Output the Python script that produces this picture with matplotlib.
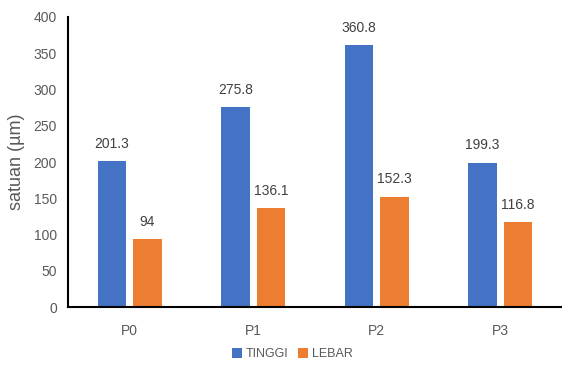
import numpy as np
import matplotlib.pyplot as plt

plt.rcParams['font.family'] = ['Liberation Sans Narrow', 'Liberation Sans', 'DejaVu Sans']

categories = ["P0", "P1", "P2", "P3"]
tinggi = [201.3, 275.8, 360.8, 199.3]
lebar = [94, 136.1, 152.3, 116.8]
tinggi_labels = ["201.3", "275.8", "360.8", "199.3"]
lebar_labels = ["94", "136.1", "152.3", "116.8"]

blue = "#4472C4"
orange = "#ED7D31"
gray = "#595959"

fig = plt.figure(figsize=(5.62, 3.67), dpi=100)
ax = fig.add_axes([0.121, 0.163, 0.879, 0.791])

x = np.arange(len(categories))
w = 0.23
off = 0.143
b1 = ax.bar(x - off, tinggi, w, color=blue, label="TINGGI")
b2 = ax.bar(x + off, lebar, w, color=orange, label="LEBAR")

for rect, lab in zip(b1, tinggi_labels):
    ax.text(rect.get_x() + rect.get_width() / 2, rect.get_height() + 14, lab,
            ha="center", va="bottom", fontsize=10, color="#404040")
for rect, lab in zip(b2, lebar_labels):
    ax.text(rect.get_x() + rect.get_width() / 2, rect.get_height() + 14, lab,
            ha="center", va="bottom", fontsize=10, color="#404040")

ax.set_xlim(-0.5, 3.5)
ax.set_ylim(0, 400)
ax.set_yticks(np.arange(0, 401, 50))
ax.set_xticks(x)
ax.set_xticklabels(categories)
ax.tick_params(axis="both", length=0, labelsize=10, colors=gray)
ax.tick_params(axis="x", pad=12)
ax.tick_params(axis="y", pad=8)

for s in ["top", "right"]:
    ax.spines[s].set_visible(False)
ax.spines["left"].set_linewidth(1.5)
ax.spines["bottom"].set_linewidth(1.5)

ax.set_ylabel("satuan (µm)", fontsize=13, color=gray, labelpad=6)

fig.legend(loc="center", bbox_to_anchor=(0.52, 0.035), ncol=2, frameon=False,
           fontsize=9, handlelength=0.8, handleheight=0.8, handletextpad=0.3,
           columnspacing=0.8, labelcolor=gray)

fig.savefig("out.png", dpi=100)
